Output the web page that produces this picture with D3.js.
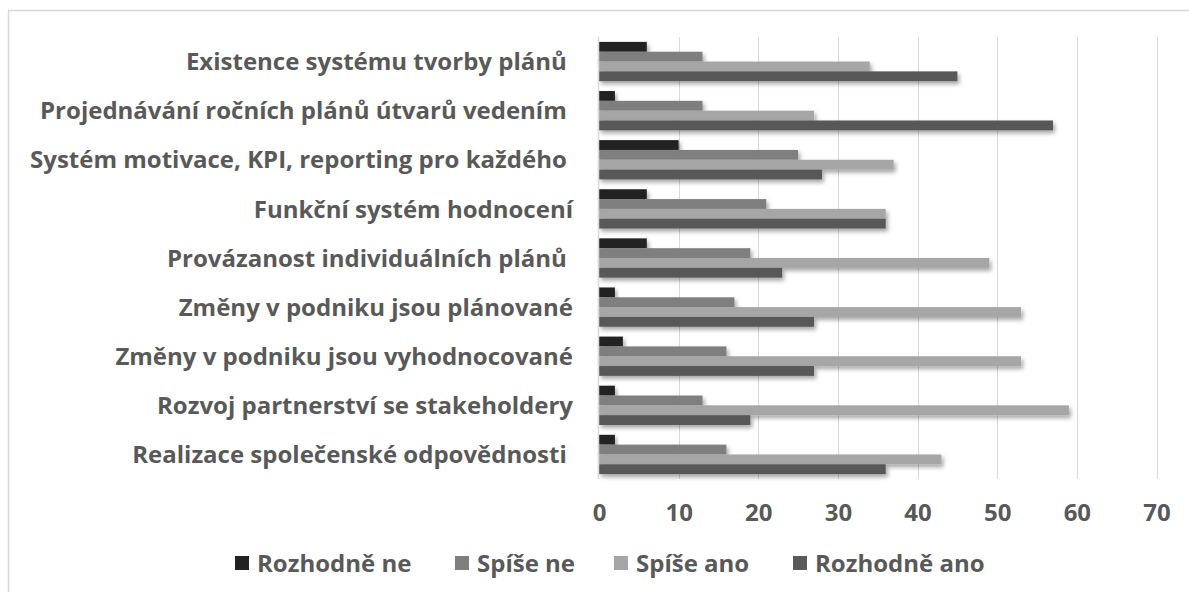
<!DOCTYPE html>
<html>
<head>
<meta charset="utf-8">
<script src="https://cdn.jsdelivr.net/npm/d3@7"></script>
<style>
  html, body { margin: 0; padding: 0; background: #fff; }
  svg text { font-family: "Open Sans", Lato, sans-serif; font-weight: bold; fill: #595959; white-space: pre; }
</style>
</head>
<body>
<svg id="chart" width="1189" height="592"></svg>
<script>
const categories = [
  "Existence systému tvorby plánů ",
  "Projednávání ročních plánů útvarů vedením ",
  "Systém motivace, KPI, reporting pro každého ",
  "Funkční systém hodnocení",
  "Provázanost individuálních plánů ",
  "Změny v podniku jsou plánované",
  "Změny v podniku jsou vyhodnocované",
  "Rozvoj partnerství se stakeholdery",
  "Realizace společenské odpovědnosti "
];
const seriesNames = ["Rozhodně ne", "Spíše ne", "Spíše ano", "Rozhodně ano"];
const rozhodneNe  = [6, 2, 10, 6, 6, 2, 3, 2, 2];
const spiseNe     = [13, 13, 25, 21, 19, 17, 16, 13, 16];
const spiseAno    = [34, 27, 37, 36, 49, 53, 53, 59, 43];
const rozhodneAno = [45, 57, 28, 36, 23, 27, 27, 19, 36];
const seriesValues = [rozhodneNe, spiseNe, spiseAno, rozhodneAno];
const xTicks = [0, 10, 20, 30, 40, 50, 60, 70];
const colors = ["#222222", "#7f7f7f", "#a6a6a6", "#595959"];

const svg = d3.select("#chart");

// outer border
svg.append("rect").attr("x", 8.5).attr("y", 10.5).attr("width", 1300).attr("height", 700)
  .attr("fill", "none").attr("stroke", "#d9d9d9").attr("stroke-width", 1.5);

const defs = svg.append("defs");
const f = defs.append("filter").attr("id", "shadow").attr("x", "-10%").attr("y", "-50%").attr("width", "130%").attr("height", "250%");
f.append("feDropShadow").attr("dx", 2).attr("dy", 3).attr("stdDeviation", 2)
  .attr("flood-color", "#000").attr("flood-opacity", 0.35);

const x = d3.scaleLinear().domain([0, 70]).range([599, 1156.5]);
const y0 = d3.scaleBand().domain(categories).range([37, 479]).paddingInner(0.2).paddingOuter(0.1);
const y1 = d3.scaleBand().domain(d3.range(seriesNames.length)).range([0, y0.bandwidth()]);

// gridlines
svg.append("g").selectAll("line").data(xTicks.slice(1)).join("line")
  .attr("x1", d => Math.round(x(d)) + 0.5).attr("x2", d => Math.round(x(d)) + 0.5)
  .attr("y1", 37).attr("y2", 479)
  .attr("stroke", "#d9d9d9").attr("stroke-width", 1);

// bars
const groups = svg.append("g").selectAll("g").data(categories).join("g")
  .attr("transform", c => `translate(0,${y0(c)})`);
groups.selectAll("rect").data((c, i) => seriesValues.map((vals, s) => ({ s, v: vals[i] }))).join("rect")
  .attr("x", x(0)).attr("y", d => y1(d.s)).attr("height", y1.bandwidth())
  .attr("width", d => x(d.v) - x(0))
  .attr("fill", d => colors[d.s])
  .attr("filter", "url(#shadow)");

// vertical axis line
svg.append("line").attr("x1", 598.5).attr("x2", 598.5).attr("y1", 37).attr("y2", 479)
  .attr("stroke", "#d9d9d9").attr("stroke-width", 1.5);

// category labels
const yAxis = d3.axisLeft(y0).tickSize(0).tickPadding(0);
const gy = svg.append("g").attr("transform", "translate(573,0)").call(yAxis);
gy.select(".domain").remove();
gy.selectAll("text").attr("font-size", 24).attr("fill", "#595959")
  .attr("font-family", null).attr("dy", "0.36em").attr("x", 0);

// x tick labels
const xAxis = d3.axisBottom(x).tickValues(xTicks).tickSize(0).tickPadding(0);
const gx = svg.append("g").attr("transform", "translate(0,512)").call(xAxis);
gx.select(".domain").remove();
gx.selectAll("text").attr("font-size", 24).attr("fill", "#595959").attr("font-family", null)
  .attr("dy", "0.36em").attr("y", 0);

// legend
const legendX = [235, 455, 614, 793];
const lg = svg.append("g").selectAll("g").data(seriesNames).join("g")
  .attr("transform", (d, i) => `translate(${legendX[i]},563)`);
lg.append("rect").attr("x", 0).attr("y", -7).attr("width", 14).attr("height", 14)
  .attr("fill", (d, i) => colors[i]);
lg.append("text").attr("x", 22).attr("dy", "0.36em").attr("font-size", 24).text(d => d);
</script>
</body>
</html>
